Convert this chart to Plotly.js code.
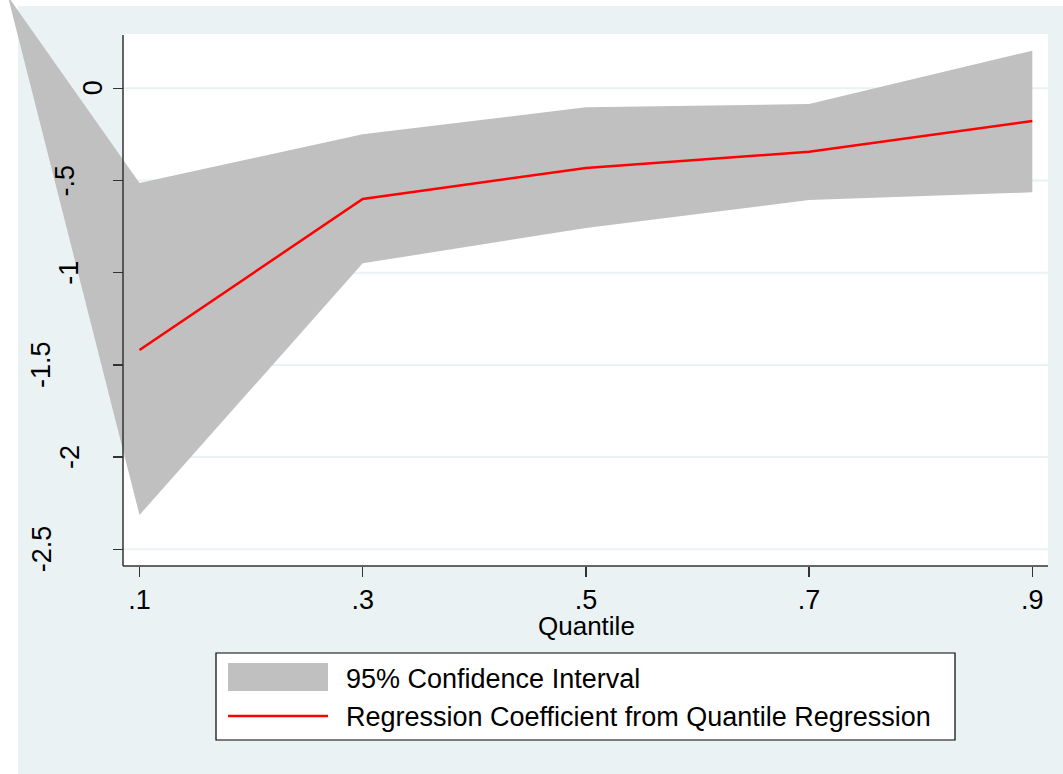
<!DOCTYPE html>
<html>
<head>
<meta charset="utf-8">
<script src="https://cdn.plot.ly/plotly-3.0.1.min.js"></script>
<style>
  html, body { margin: 0; padding: 0; background: #ffffff; }
  #chart { width: 1063px; height: 774px; }
</style>
</head>
<body>
<div id="chart"></div>
<script>
// ---------------- data ----------------
const quantiles = [0.1, 0.3, 0.5, 0.7, 0.9];
const coefficient = [-1.419, -0.600, -0.432, -0.344, -0.177];
// confidence band (first point is the stray vertex of the band, outside the plot)
const ciQuantiles = [-0.018, 0.1, 0.3, 0.5, 0.7, 0.9];
const ciUpper = [0.50, -0.514, -0.249, -0.103, -0.085, 0.204];
const ciLower = [0.50, -2.314, -0.949, -0.758, -0.606, -0.564];

const xTickVals = [0.1, 0.3, 0.5, 0.7, 0.9];
const xTickText = ['.1', '.3', '.5', '.7', '.9'];
const yTickVals = [-2.5, -2, -1.5, -1, -0.5, 0];
const yTickText = ['-2.5', '-2', '-1.5', '-1', '-.5', '0'];
const seriesNames = ['95% Confidence Interval', 'Regression Coefficient from Quantile Regression'];
const xTitle = 'Quantile';

// ---------------- layout helpers ----------------
const W = 1063, H = 774;
const px = x => x / W;
const py = y => 1 - y / H;
const FONT = '"Liberation Sans", Arial, Helvetica, sans-serif';
const BG = '#EAF2F3';
const AXIS = '#333333';
const BAND = '#C0C0C0';
const RED = '#FF0000';
// horizontal centre (px) of each rotated y tick label, as in the reference
const yLabelCenterPx = [42, 70, 41, 69, 64, 93];

// ---------------- traces ----------------
const bandX = ciQuantiles.concat(ciQuantiles.slice().reverse());
const bandY = ciUpper.concat(ciLower.slice().reverse());

const traces = [
  {
    type: 'scatter', mode: 'lines', name: seriesNames[0],
    x: bandX, y: bandY, fill: 'toself', fillcolor: BAND,
    line: { width: 0, color: BAND }, hoverinfo: 'skip', showlegend: false
  },
  {
    type: 'scatter', mode: 'lines', name: seriesNames[1],
    x: quantiles, y: coefficient,
    line: { color: RED, width: 2.5 }, showlegend: false
  }
];

// ---------------- shapes ----------------
const shapes = [
  // outer graph region
  { type: 'rect', xref: 'paper', yref: 'paper', x0: px(18), x1: 1, y0: 0, y1: py(6),
    fillcolor: BG, line: { width: 0 }, layer: 'below' },
  // plot region
  { type: 'rect', xref: 'paper', yref: 'paper', x0: px(123), x1: px(1048), y0: py(566), y1: py(34),
    fillcolor: '#ffffff', line: { width: 0 }, layer: 'below' }
];
// grid lines
yTickVals.forEach(v => shapes.push({
  type: 'line', xref: 'paper', yref: 'y', x0: px(123), x1: px(1048), y0: v, y1: v,
  line: { color: BG, width: 2 }, layer: 'below'
}));
// axis lines
shapes.push({ type: 'line', xref: 'paper', yref: 'paper', x0: px(123), x1: px(123), y0: py(566), y1: py(35),
  line: { color: AXIS, width: 1.5 }, layer: 'above' });
shapes.push({ type: 'line', xref: 'paper', yref: 'paper', x0: px(123), x1: px(1048), y0: py(566), y1: py(566),
  line: { color: AXIS, width: 1.5 }, layer: 'above' });
// legend
shapes.push({ type: 'rect', xref: 'paper', yref: 'paper', x0: px(216), x1: px(955), y0: py(740), y1: py(653),
  fillcolor: '#ffffff', line: { color: '#000000', width: 1.2 }, layer: 'above' });
shapes.push({ type: 'rect', xref: 'paper', yref: 'paper', x0: px(228), x1: px(328), y0: py(691), y1: py(663),
  fillcolor: BAND, line: { width: 0 }, layer: 'above' });
shapes.push({ type: 'line', xref: 'paper', yref: 'paper', x0: px(228), x1: px(328), y0: py(716), y1: py(716),
  line: { color: RED, width: 2.5 }, layer: 'above' });

// ---------------- annotations ----------------
const annotations = [];
yTickVals.forEach((v, i) => annotations.push({
  xref: 'paper', yref: 'y', x: px(yLabelCenterPx[i]), y: v, text: yTickText[i],
  textangle: -90, xanchor: 'center', yanchor: 'middle', showarrow: false,
  font: { family: FONT, size: 27, color: '#000000' }
}));
annotations.push({
  xref: 'paper', yref: 'paper', x: px(586), y: py(626), text: xTitle,
  xanchor: 'center', yanchor: 'middle', showarrow: false,
  font: { family: FONT, size: 26, color: '#000000' }
});
annotations.push({
  xref: 'paper', yref: 'paper', x: px(344), y: py(679), text: seriesNames[0],
  xanchor: 'left', yanchor: 'middle', showarrow: false,
  font: { family: FONT, size: 27, color: '#000000' }
});
annotations.push({
  xref: 'paper', yref: 'paper', x: px(344), y: py(717), text: seriesNames[1],
  xanchor: 'left', yanchor: 'middle', showarrow: false,
  font: { family: FONT, size: 27, color: '#000000' }
});

// ---------------- layout ----------------
const layout = {
  width: W, height: H,
  margin: { l: 0, r: 0, t: 0, b: 0, pad: 0 },
  paper_bgcolor: '#ffffff',
  plot_bgcolor: 'rgba(0,0,0,0)',
  showlegend: false,
  font: { family: FONT, size: 26, color: '#000000' },
  xaxis: {
    domain: [0, 1], range: [-0.025, 0.92751], anchor: 'free', position: py(566),
    showgrid: false, zeroline: false, showline: false,
    tickmode: 'array', tickvals: xTickVals, ticktext: xTickText,
    ticks: 'outside', ticklen: 10, tickwidth: 1.5, tickcolor: AXIS,
    tickfont: { family: FONT, size: 27, color: '#000000' }
  },
  yaxis: {
    domain: [0, 1], range: [-3.7186, 0.4789], anchor: 'free', position: px(123),
    showgrid: false, zeroline: false, showline: false,
    tickmode: 'array', tickvals: yTickVals, ticktext: yTickText,
    ticks: 'outside', ticklen: 10, tickwidth: 1.5, tickcolor: AXIS,
    showticklabels: false
  },
  shapes: shapes,
  annotations: annotations
};

Plotly.newPlot('chart', traces, layout, { staticPlot: true, displayModeBar: false });
</script>
</body>
</html>
